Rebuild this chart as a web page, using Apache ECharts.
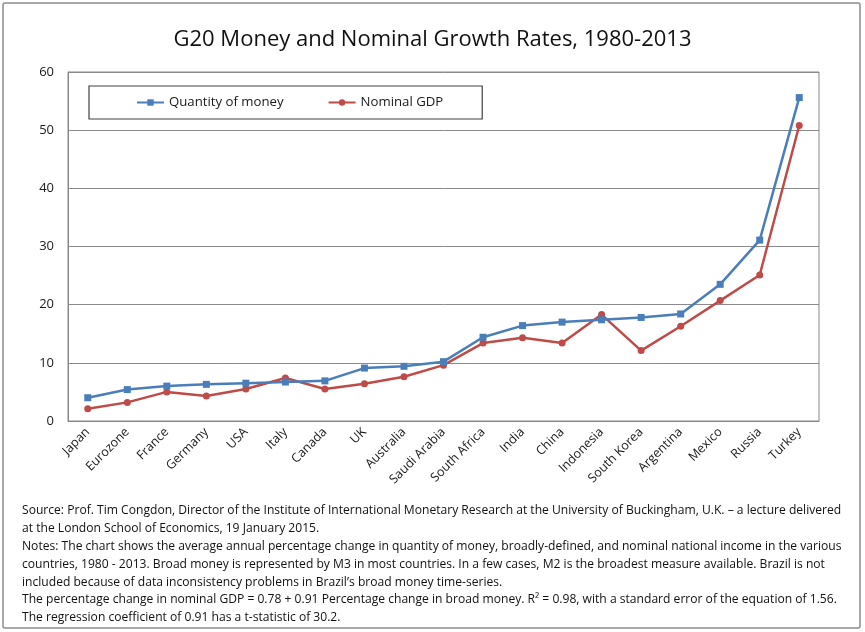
<!DOCTYPE html>
<html>
<head>
<meta charset="utf-8">
<script src="https://cdn.jsdelivr.net/npm/echarts@6/dist/echarts.min.js"></script>
<style>
html,body{margin:0;padding:0;background:#fff;}
#chart{width:865px;height:632px;}
</style>
</head>
<body>
<div id="chart"></div>
<script>
const categories = ['Japan','Eurozone','France','Germany','USA','Italy','Canada','UK','Australia','Saudi Arabia','South Africa','India','China','Indonesia','South Korea','Argentina','Mexico','Russia','Turkey'];
const moneyGrowth = [4.0, 5.4, 6.0, 6.3, 6.5, 6.7, 6.9, 9.1, 9.4, 10.2, 14.4, 16.4, 17.0, 17.4, 17.8, 18.4, 23.5, 31.1, 55.6];
const gdpGrowth   = [2.1, 3.2, 5.0, 4.3, 5.5, 7.4, 5.5, 6.4, 7.6, 9.6, 13.4, 14.3, 13.4, 18.3, 12.1, 16.3, 20.7, 25.1, 50.8];
const seriesNames = ['Quantity of money', 'Nominal GDP'];
const titleText = 'G20 Money and Nominal Growth Rates, 1980-2013';
const noteLines = [
  'Source: Prof. Tim Congdon, Director of the Institute of International Monetary Research at the University of Buckingham, U.K. \u2013 a lecture delivered',
  'at the London School of Economics, 19 January 2015.',
  'Notes: The chart shows the average annual percentage change in quantity of money, broadly-defined, and nominal national income in the various',
  'countries, 1980 - 2013. Broad money is represented by M3 in most countries. In a few cases, M2 is the broadest measure available. Brazil is not',
  'included because of data inconsistency problems in Brazil\u2019s broad money time-series.',
  'The percentage change in nominal GDP = 0.78 + 0.91 Percentage change in broad money. R\u00b2 = 0.98, with a standard error of the equation of 1.56.',
  'The regression coefficient of 0.91 has a t-statistic of 30.2.'
];

const FONT = '"Open Sans", "Liberation Sans", sans-serif';
function fitSize(text, targetWidth) {
  const c = document.createElement('canvas').getContext('2d');
  c.font = '100px ' + FONT;
  const w = c.measureText(text).width;
  return 100 * targetWidth / w;
}
const noteSize = Math.round(fitSize(noteLines[0], 818) * 10) / 10;
const titleSize = Math.round(fitSize(titleText, 518) * 10) / 10;

const chart = echarts.init(document.getElementById('chart'), null, {renderer: 'canvas'});
const graphics = [{
  type: 'rect', shape: {x: 3, y: 3, width: 857, height: 625, r: 2},
  style: {fill: 'none', stroke: '#8c8c8c', lineWidth: 1.5}, silent: true
}];
noteLines.forEach((t, i) => {
  graphics.push({
    type: 'text', left: 22, top: 505 + i * 17.8,
    style: {text: t, font: noteSize + 'px ' + FONT, fill: '#111'}
  });
});

chart.setOption({
  backgroundColor: '#fff',
  animation: false,
  title: {
    text: titleText, left: 'center', top: 24,
    textStyle: {fontFamily: FONT, fontSize: titleSize, fontWeight: 'normal', color: '#111'}
  },
  legend: {
    left: 89, top: 86,
    padding: [10, 39, 10, 47],
    borderColor: '#404040', borderWidth: 1.2,
    itemWidth: 27, itemHeight: 8, itemGap: 44,
    textStyle: {fontFamily: FONT, fontSize: 13.2, color: '#1a1a1a'},
    data: seriesNames
  },
  grid: {left: 68, right: 46, top: 72, bottom: 211, show: true, borderColor: '#888', borderWidth: 1},
  xAxis: {
    type: 'category', data: categories, boundaryGap: true,
    axisLine: {lineStyle: {color: '#888'}},
    axisTick: {show: false},
    axisLabel: {rotate: 45, interval: 0, margin: 9, fontFamily: FONT, fontSize: 12.5, color: '#1a1a1a'}
  },
  yAxis: {
    type: 'value', min: 0, max: 60, interval: 10,
    axisLine: {show: true, lineStyle: {color: '#888'}},
    axisTick: {show: false},
    splitLine: {lineStyle: {color: '#8a8a8a', width: 1}},
    axisLabel: {margin: 14, fontFamily: FONT, fontSize: 13, color: '#1a1a1a'}
  },
  series: [
    {name: seriesNames[0], type: 'line', data: moneyGrowth, symbol: 'rect', symbolSize: 7,
     lineStyle: {color: '#4a7ebb', width: 2.5}, itemStyle: {color: '#4a7ebb'}, z: 3},
    {name: seriesNames[1], type: 'line', data: gdpGrowth, symbol: 'circle', symbolSize: 7,
     lineStyle: {color: '#be4b48', width: 2.5}, itemStyle: {color: '#be4b48'}, z: 2}
  ],
  graphic: graphics
});
</script>
</body>
</html>
